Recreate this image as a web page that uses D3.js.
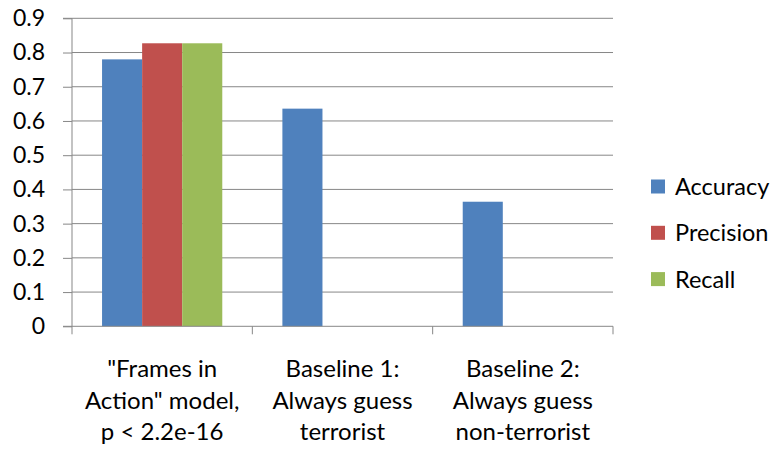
<!DOCTYPE html>
<html><head><meta charset="utf-8">
<script src="https://cdn.jsdelivr.net/npm/d3@7"></script>
<style>body{margin:0;background:#fff}svg{display:block}text{font-family:Lato,"Open Sans",sans-serif;fill:#000}</style>
</head><body><svg id="c" width="771" height="450"></svg>
<script>
const categories = [["\"Frames in", "Action\" model,", "p < 2.2e-16"], ["Baseline 1:", "Always guess", "terrorist"], ["Baseline 2:", "Always guess", "non-terrorist"]];
const seriesNames = ["Accuracy", "Precision", "Recall"];
const accuracy = [0.78, 0.636, 0.364];
const precision = [0.827, null, null];
const recall = [0.827, null, null];
const yTicks = [0, 0.1, 0.2, 0.3, 0.4, 0.5, 0.6, 0.7, 0.8, 0.9];
const colors = ["#4F81BD", "#C0504D", "#9BBB59"];

(function () {
const seriesValues = [accuracy, precision, recall];
const svg = d3.select("#c");
const pl = 72, pr = 613, pt = 18.3, pb = 326.3;
const fs = 23;
const catIdx = categories.map((d, i) => i);
const x0 = d3.scaleBand().domain(catIdx).range([pl, pr]).padding(0);
const bw = x0.bandwidth();
const x1 = d3.scaleBand().domain(seriesNames).range([bw / 6, bw * 5 / 6]).padding(0);
const y = d3.scaleLinear().domain([0, 0.9]).range([pb, pt]);
const grid = "#878787";

svg.append("g").selectAll("line").data(yTicks.filter(t => t > 0)).join("line")
  .attr("x1", pl).attr("x2", pr).attr("y1", d => y(d)).attr("y2", d => y(d))
  .attr("stroke", grid).attr("stroke-width", 1);

const rows = [];
seriesValues.forEach((arr, s) => arr.forEach((v, c) => { if (v != null) rows.push({ s, c, v }); }));
svg.append("g").selectAll("rect").data(rows).join("rect")
  .attr("x", d => x0(d.c) + x1(seriesNames[d.s]))
  .attr("width", x1.bandwidth())
  .attr("y", d => y(d.v))
  .attr("height", d => y(0) - y(d.v))
  .attr("fill", d => colors[d.s]);

const yAxis = d3.axisLeft(y).tickValues(yTicks).tickSize(9).tickPadding(18)
  .tickFormat(d => d === 0 ? "0" : d3.format(".1f")(d));
const gy = svg.append("g").attr("transform", `translate(${pl},0)`).call(yAxis);
gy.select(".domain").attr("stroke", grid).attr("d", `M-9,${pt}H0V${pb}H-9`);
gy.selectAll(".tick line").attr("stroke", grid);
gy.selectAll(".tick text").attr("font-size", fs).attr("font-family", "Lato").attr("fill", "#000");

const gx = svg.append("g").attr("transform", `translate(0,${pb})`);
gx.append("line").attr("x1", pl).attr("x2", pr).attr("stroke", grid);
gx.selectAll("line.tk").data(d3.range(categories.length + 1)).join("line").attr("class", "tk")
  .attr("x1", i => pl + i * bw).attr("x2", i => pl + i * bw).attr("y1", 0).attr("y2", 8).attr("stroke", grid);
const labs = gx.selectAll("text.cl").data(catIdx).join("text").attr("class", "cl")
  .attr("text-anchor", "middle").attr("font-size", 24);
labs.each(function (c) {
  d3.select(this).selectAll("tspan").data(categories[c]).join("tspan")
    .attr("x", x0(c) + bw / 2).attr("y", (d, i) => 51 + i * 31.5).text(d => d);
});

const lg = svg.append("g");
seriesNames.forEach((n, i) => {
  const cy = 186.5 + i * 46.3;
  lg.append("rect").attr("x", 651).attr("y", cy - 7).attr("width", 14).attr("height", 14).attr("fill", colors[i]);
  lg.append("text").attr("x", 675).attr("y", cy).attr("dy", "0.36em").attr("font-size", 23.5).text(n);
});
})();
</script></body></html>
